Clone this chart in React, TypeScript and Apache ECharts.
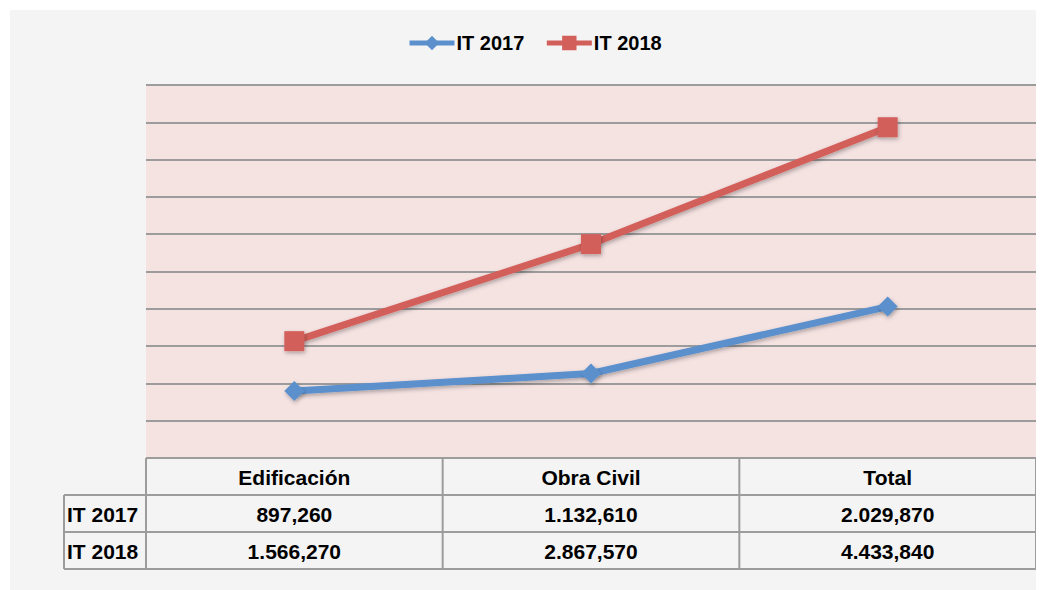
import React, { useEffect, useRef } from "react";
import * as echarts from "echarts";

const categories = ["Edificación", "Obra Civil", "Total"];
const seriesNames = ["IT 2017", "IT 2018"];
const it2017 = [897260, 1132610, 2029870];
const it2018 = [1566270, 2867570, 4433840];
const it2017Labels = ["897,260", "1.132,610", "2.029,870"];
const it2018Labels = ["1.566,270", "2.867,570", "4.433,840"];

const W = 1034;
const H = 580;
const GRID = { left: 136, right: 8, top: 75, bottom: 132 };
const FONT = "'Liberation Sans', Arial, sans-serif";

export default function App() {
  const ref = useRef<HTMLDivElement>(null);
  useEffect(() => {
    if (!ref.current) return;
    const chart = echarts.init(ref.current, undefined, { renderer: "svg" });

    const x0 = GRID.left;
    const x1 = W - GRID.right;
    const colW = (x1 - x0) / categories.length;
    const rowTop = H - GRID.bottom;
    const rowH = 37;
    const leftColX = 54;
    const lineColor = "#9c9c9c";
    const graphics: any[] = [];
    const lw = 2;
    graphics.push({ type: "line", shape: { x1: x0, y1: rowTop, x2: x1, y2: rowTop }, style: { stroke: lineColor, lineWidth: lw } });
    for (let r = 1; r <= 3; r++) {
      const y = rowTop + r * rowH;
      graphics.push({ type: "line", shape: { x1: leftColX, y1: y, x2: x1, y2: y }, style: { stroke: lineColor, lineWidth: lw } });
    }
    graphics.push({ type: "line", shape: { x1: leftColX, y1: rowTop + rowH, x2: leftColX, y2: rowTop + 3 * rowH }, style: { stroke: lineColor, lineWidth: lw } });
    for (let c = 0; c <= categories.length; c++) {
      const x = x0 + c * colW;
      graphics.push({ type: "line", shape: { x1: x, y1: rowTop, x2: x, y2: rowTop + 3 * rowH }, style: { stroke: lineColor, lineWidth: lw } });
    }
    const txt = (text: string, x: number, y: number, align: string) => ({
      type: "text",
      x,
      y,
      style: { text, fill: "#000", font: `bold 21px ${FONT}`, align, verticalAlign: "middle" },
    });
    categories.forEach((c, i) => {
      const cx = x0 + (i + 0.5) * colW;
      graphics.push(txt(c, cx, rowTop + rowH / 2 + 1, "center"));
      graphics.push(txt(it2017Labels[i], cx, rowTop + rowH * 1.5 + 1, "center"));
      graphics.push(txt(it2018Labels[i], cx, rowTop + rowH * 2.5 + 1, "center"));
    });
    graphics.push(txt(seriesNames[0], leftColX + 3, rowTop + rowH * 1.5 + 1, "left"));
    graphics.push(txt(seriesNames[1], leftColX + 3, rowTop + rowH * 2.5 + 1, "left"));

    const shadow = { shadowBlur: 4, shadowOffsetX: 1, shadowOffsetY: 2, shadowColor: "rgba(0,0,0,0.3)" };

    chart.setOption({
      animation: false,
      backgroundColor: "#f4f4f4",
      textStyle: { fontFamily: FONT },
      legend: {
        top: 18,
        left: 392,
        itemWidth: 45,
        itemHeight: 18,
        itemGap: 20,
        lineStyle: { width: 5 },
        textStyle: { fontWeight: "bold", fontSize: 20, color: "#000", fontFamily: FONT, padding: [0, 0, 0, -3] },
        data: seriesNames,
      },
      grid: { ...GRID, show: true, backgroundColor: "#f5e3e2", borderWidth: 0 },
      xAxis: {
        type: "category",
        data: categories,
        boundaryGap: true,
        axisLine: { show: false },
        axisTick: { show: false },
        axisLabel: { show: false },
      },
      yAxis: {
        type: "value",
        min: 0,
        max: 5000000,
        interval: 500000,
        axisLine: { show: false },
        axisTick: { show: false },
        axisLabel: { show: false },
        splitLine: { lineStyle: { color: "#9c9c9c", width: 2 } },
      },
      series: [
        {
          name: seriesNames[0],
          type: "line",
          data: it2017,
          symbol: "diamond",
          symbolSize: 20,
          lineStyle: { color: "#5b90cd", width: 7, ...shadow },
          itemStyle: { color: "#5b90cd", ...shadow },
        },
        {
          name: seriesNames[1],
          type: "line",
          data: it2018,
          symbol: "rect",
          symbolSize: 20,
          lineStyle: { color: "#d25f5a", width: 7, ...shadow },
          itemStyle: { color: "#d25f5a", ...shadow },
        },
      ],
      graphic: graphics,
    });
    return () => chart.dispose();
  }, []);
  return (
    <div
      ref={ref}
      style={{ width: W, height: H, marginLeft: 2, marginTop: 2 }}
    />
  );
}
